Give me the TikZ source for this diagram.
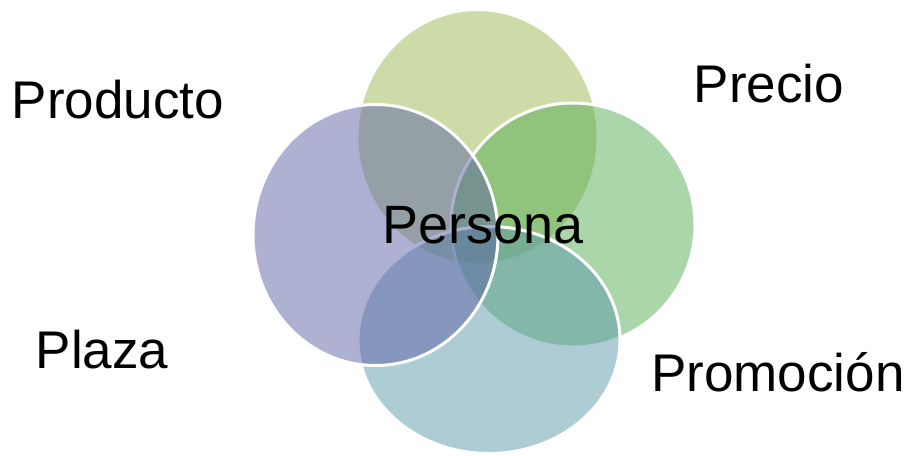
\documentclass[tikz,border=0pt]{standalone}
\usepackage{fontspec}
\setmainfont{Liberation Sans}
\usepackage{tikz}
\usetikzlibrary{shapes, positioning}

\definecolor{oliveC}{RGB}{153,183,81}
\definecolor{greenC}{RGB}{85,173,85}
\definecolor{tealC}{RGB}{93,153,169}
\definecolor{purpleC}{RGB}{93,99,165}

\begin{document}
\begin{tikzpicture}[
      x=1pt, y=-1pt,
      every node/.style={font=\fontsize{53}{60}\selectfont},
      venn/.style={ellipse, draw=white, line width=3pt, fill opacity=0.5, inner sep=0pt, outer sep=0pt}
    ]
    \useasboundingbox (0,0) rectangle (907,455);
    % four overlapping circles, drawn back to front
    \node[venn, fill=oliveC, minimum width=241pt, minimum height=255pt] (circTop) at (477.5,137) {};
    \node[venn, fill=greenC, minimum width=244pt, minimum height=244pt] (circRight) at (573,225) {};
    \node[venn, fill=tealC, minimum width=262pt, minimum height=227pt] (circBottom) at (489,340) {};
    \node[venn, fill=purpleC, minimum width=245pt, minimum height=261pt] (circLeft) at (375.5,235) {};
    % labels
    \node (persona) at (483,225) {\fontsize{54}{60}\selectfont Persona};
    \node (producto) at (118,100) {Producto};
    \node (precio) at (769,84) {Precio};
    \node (plaza) at (102,350) {Plaza};
    \node (promocion) at (778,372) {Promoción};
\end{tikzpicture}
\end{document}
